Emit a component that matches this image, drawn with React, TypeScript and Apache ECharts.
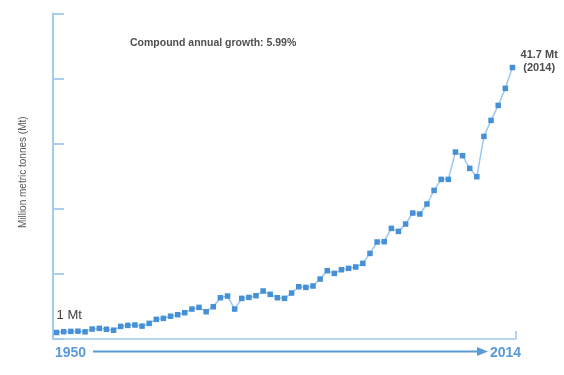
import React, { useEffect, useRef } from "react";
import * as echarts from "echarts";

const years = [
  1950, 1951, 1952, 1953, 1954, 1955, 1956, 1957, 1958, 1959,
  1960, 1961, 1962, 1963, 1964, 1965, 1966, 1967, 1968, 1969,
  1970, 1971, 1972, 1973, 1974, 1975, 1976, 1977, 1978, 1979,
  1980, 1981, 1982, 1983, 1984, 1985, 1986, 1987, 1988, 1989,
  1990, 1991, 1992, 1993, 1994, 1995, 1996, 1997, 1998, 1999,
  2000, 2001, 2002, 2003, 2004, 2005, 2006, 2007, 2008, 2009,
  2010, 2011, 2012, 2013, 2014,
];

const production = [
  1.0, 1.12, 1.17, 1.2, 1.1, 1.53, 1.63, 1.5, 1.35, 1.94,
  2.09, 2.15, 1.98, 2.4, 3.02, 3.17, 3.5, 3.73, 4.04, 4.6,
  4.86, 4.19, 4.96, 6.34, 6.6, 4.6, 6.24, 6.39, 6.65, 7.37,
  6.86, 6.34, 6.24, 7.06, 8.03, 7.93, 8.14, 9.21, 10.49, 10.08,
  10.64, 10.85, 11.06, 11.62, 13.15, 14.9, 14.95, 16.99, 16.53, 17.66,
  19.35, 19.2, 20.74, 22.83, 24.52, 24.52, 28.72, 28.16, 26.21, 24.93,
  31.12, 33.58, 35.88, 38.5, 41.7,
];

const growthNote = "Compound annual growth: 5.99%";
const startLabel = "1 Mt";
const endLabel = "41.7 Mt\n(2014)";
const yAxisTitle = "Million metric tonnes (Mt)";
const startYear = "1950";
const endYear = "2014";

const FONT = "'Liberation Sans', Arial, sans-serif";
const AXIS = "#a2c9ee";
const BLUE = "#5b9bd5";

export default function App() {
  const ref = useRef<HTMLDivElement>(null);

  useEffect(() => {
    const chart = echarts.init(ref.current!, null, { renderer: "svg" });
    const last = years.length - 1;
    const data = years.map((y, i) => {
      const item: any = { value: [y, production[i]] };
      if (i === 0) {
        item.label = {
          show: true,
          formatter: startLabel,
          position: "top",
          align: "left",
          distance: 9,
          fontSize: 13,
          color: "#404040",
          fontFamily: FONT,
        };
      }
      if (i === last) {
        item.label = {
          show: true,
          formatter: endLabel,
          position: "right",
          align: "center",
          distance: 24,
          offset: [0, -7],
          fontSize: 11,
          fontWeight: "bold",
          lineHeight: 13,
          color: "#4d4d4d",
          fontFamily: FONT,
        };
      }
      return item;
    });

    chart.setOption({
      animation: false,
      grid: { left: 53, right: 48, top: 13.5, bottom: 36 },
      xAxis: {
        type: "value",
        min: 1949.5,
        max: 2014.5,
        interval: 65,
        axisLine: { show: true, lineStyle: { color: AXIS, width: 1.6 } },
        axisTick: { show: true, inside: true, length: 8, lineStyle: { color: AXIS, width: 1.6 } },
        axisLabel: { show: false },
        splitLine: { show: false },
      },
      yAxis: {
        type: "value",
        min: 0,
        max: 50,
        interval: 10,
        name: yAxisTitle,
        nameLocation: "middle",
        nameGap: 26,
        nameTextStyle: { fontSize: 10, color: "#595959", fontFamily: FONT, padding: [0, 0, 0, 8] },
        axisLine: { show: true, lineStyle: { color: AXIS, width: 2 } },
        axisTick: { show: true, inside: true, length: 11, lineStyle: { color: AXIS, width: 1.8 } },
        axisLabel: { show: false },
        splitLine: { show: false },
      },
      series: [
        {
          type: "line",
          data,
          symbol: "rect",
          symbolSize: 5.5,
          lineStyle: { color: "#9cc8ee", width: 1.5 },
          itemStyle: { color: "#4590d6" },
        },
      ],
      graphic: [
        {
          type: "text",
          x: 130,
          y: 42,
          style: {
            text: growthNote,
            fill: "#505050",
            fontSize: 10.5,
            fontWeight: "bold",
            fontFamily: FONT,
            align: "left",
            verticalAlign: "middle",
          },
        },
        {
          type: "text",
          x: 55,
          y: 352,
          style: {
            text: startYear,
            fill: BLUE,
            fontSize: 14,
            fontWeight: "bold",
            fontFamily: FONT,
            align: "left",
            verticalAlign: "middle",
          },
        },
        {
          type: "text",
          x: 490,
          y: 352,
          style: {
            text: endYear,
            fill: BLUE,
            fontSize: 14,
            fontWeight: "bold",
            fontFamily: FONT,
            align: "left",
            verticalAlign: "middle",
          },
        },
        {
          type: "line",
          shape: { x1: 93, y1: 351.5, x2: 479, y2: 351.5 },
          style: { stroke: BLUE, lineWidth: 2 },
        },
        {
          type: "polygon",
          shape: { points: [[477, 347], [488, 351.5], [477, 356]] },
          style: { fill: BLUE },
        },
      ],
    });

    return () => chart.dispose();
  }, []);

  return (
    <div
      ref={ref}
      style={{ position: "fixed", left: 0, top: 0, width: 564, height: 375 }}
    />
  );
}
